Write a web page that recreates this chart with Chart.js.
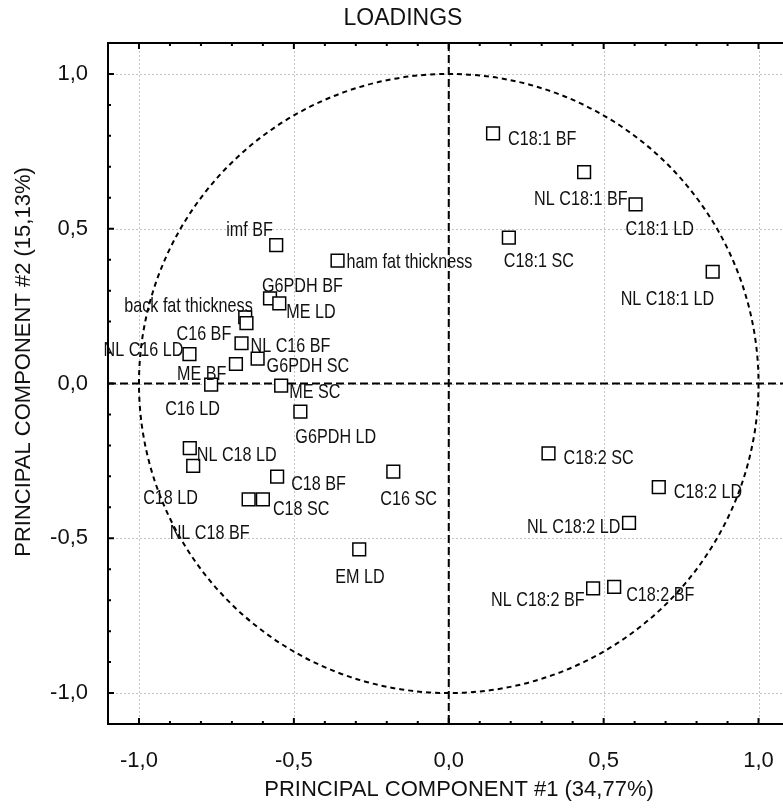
<!DOCTYPE html>
<html>
<head>
<meta charset="utf-8">
<script src="https://cdn.jsdelivr.net/npm/chart.js@4.4.0/dist/chart.umd.min.js"></script>
<style>
html, body { margin: 0; padding: 0; background: #fff; overflow: hidden; }
canvas { display: block; }
</style>
</head>
<body>
<canvas id="myChart" width="800" height="810"></canvas>
<script>
// loadings
var variables = ['C18:1 BF', 'NL C18:1 BF', 'C18:1 LD', 'C18:1 SC', 'NL C18:1 LD',
  'imf BF', 'ham fat thickness', 'G6PDH BF', 'ME LD', 'back fat thickness',
  'C16 BF', 'NL C16 BF', 'NL C16 LD', 'G6PDH SC', 'ME BF',
  'C16 LD', 'ME SC', 'G6PDH LD', 'NL C18 LD', 'C18 LD',
  'C18 BF', 'NL C18 BF', 'C18 SC', 'C16 SC', 'EM LD',
  'C18:2 SC', 'C18:2 LD', 'NL C18:2 LD', 'NL C18:2 BF', 'C18:2 BF'];
var pc1 = [0.143, 0.437, 0.603, 0.194, 0.852,
  -0.557, -0.359, -0.577, -0.547, -0.657,
  -0.653, -0.669, -0.837, -0.617, -0.687,
  -0.767, -0.541, -0.479, -0.836, -0.825,
  -0.554, -0.646, -0.600, -0.179, -0.289,
  0.322, 0.678, 0.582, 0.466, 0.534];
var pc2 = [0.808, 0.683, 0.579, 0.471, 0.361,
  0.447, 0.397, 0.275, 0.259, 0.214,
  0.195, 0.130, 0.095, 0.080, 0.063,
  -0.004, -0.007, -0.091, -0.209, -0.266,
  -0.301, -0.374, -0.374, -0.285, -0.536,
  -0.226, -0.335, -0.450, -0.662, -0.657];

// where each label sits relative to its square (px, left / middle of text)
var labelOffsets = [[15, 4], [-50, 25], [-10, 23], [-5, 22], [-92, 26],
  [-50, -17], [9, 0], [-8, -14], [7, 7], [-121, -13],
  [-70, 9], [9, 1], [-86, -6], [9, 6], [-59, 9],
  [-46, 23], [8, 5], [-5, 24], [7, 5], [-50, 31],
  [14, 6], [-79, 32], [10, 8], [-13, 26], [-24, 26],
  [15, 3], [15, 3], [-102, 3], [-102, 10], [12, 7]];

var tickValues = [-1, -0.5, 0, 0.5, 1];
var tickLabels = ['-1,0', '-0,5', '0,0', '0,5', '1,0'];
var chartTitle = 'LOADINGS';
var xTitle = 'PRINCIPAL COMPONENT #1 (34,77%)';
var yTitle = 'PRINCIPAL COMPONENT #2 (15,13%)';

var FONT = '"Liberation Sans", Arial, sans-serif';

var points = variables.map(function(n, i) { return {x: pc1[i], y: pc2[i]}; });

function setTicks(scale) {
  scale.ticks = tickValues.map(function(v) { return {value: v}; });
}
function tickLabel(v) {
  var i = tickValues.indexOf(v);
  return i < 0 ? '' : tickLabels[i];
}

var loadingsPlugin = {
  id: 'loadings',
  beforeDatasetsDraw: function(chart) {
    var ctx = chart.ctx, a = chart.chartArea, xs = chart.scales.x, ys = chart.scales.y;
    ctx.save();
    // dotted grid
    ctx.strokeStyle = '#c4c4c4';
    ctx.lineWidth = 1;
    ctx.setLineDash([2, 2]);
    tickValues.forEach(function(v) {
      var px = Math.round(xs.getPixelForValue(v)) + 0.5;
      ctx.beginPath(); ctx.moveTo(px, a.top); ctx.lineTo(px, a.bottom); ctx.stroke();
      var py = Math.round(ys.getPixelForValue(v)) + 0.5;
      ctx.beginPath(); ctx.moveTo(a.left, py); ctx.lineTo(a.right, py); ctx.stroke();
    });
    // unit circle
    var cx = xs.getPixelForValue(0), cy = ys.getPixelForValue(0);
    var rx = xs.getPixelForValue(1) - cx, ry = cy - ys.getPixelForValue(1);
    ctx.strokeStyle = '#000';
    ctx.lineWidth = 2;
    ctx.setLineDash([5, 4]);
    ctx.beginPath(); ctx.ellipse(cx, cy, rx, ry, 0, 0, 2 * Math.PI); ctx.stroke();
    // zero lines
    ctx.setLineDash([8, 4]);
    ctx.beginPath(); ctx.moveTo(cx, a.top); ctx.lineTo(cx, a.bottom); ctx.stroke();
    ctx.beginPath(); ctx.moveTo(a.left, cy); ctx.lineTo(a.right, cy); ctx.stroke();
    ctx.restore();
  },
  afterDatasetsDraw: function(chart) {
    var ctx = chart.ctx, a = chart.chartArea, xs = chart.scales.x, ys = chart.scales.y;
    var meta = chart.getDatasetMeta(0);
    ctx.save();
    ctx.fillStyle = '#111';
    ctx.font = '21px ' + FONT;
    ctx.textAlign = 'left';
    ctx.textBaseline = 'alphabetic';
    meta.data.forEach(function(pt, i) {
      var off = labelOffsets[i];
      ctx.save();
      ctx.translate(pt.x + off[0], pt.y + off[1] + 7.5);
      ctx.scale(0.77, 1);
      ctx.fillText(variables[i], 0, 0);
      ctx.restore();
    });
    // frame
    ctx.strokeStyle = '#000';
    ctx.lineWidth = 2;
    ctx.strokeRect(a.left, a.top, a.right - a.left, a.bottom - a.top);
    // inward ticks every 0.1
    for (var k = -11; k <= 11; k++) {
      var len = (k % 5 === 0) ? 6 : 3;
      var px = xs.getPixelForValue(k / 10), py = ys.getPixelForValue(k / 10);
      ctx.beginPath();
      ctx.moveTo(px, a.bottom); ctx.lineTo(px, a.bottom - len);
      ctx.moveTo(px, a.top); ctx.lineTo(px, a.top + len);
      ctx.moveTo(a.left, py); ctx.lineTo(a.left + len, py);
      ctx.moveTo(a.right, py); ctx.lineTo(a.right - len, py);
      ctx.stroke();
    }
    ctx.restore();
  },
  afterDraw: function(chart) {
    var ctx = chart.ctx;
    ctx.save();
    ctx.fillStyle = '#111';
    ctx.textAlign = 'center';
    ctx.textBaseline = 'alphabetic';
    ctx.font = '23px ' + FONT;
    ctx.fillText(chartTitle, 403, 25);
    ctx.font = '22px ' + FONT;
    ctx.fillText(xTitle, 459, 796);
    ctx.translate(30, 362);
    ctx.rotate(-Math.PI / 2);
    ctx.fillText(yTitle, 0, 0);
    ctx.restore();
  }
};

var chart = new Chart('myChart', {
  type: 'scatter',
  data: {
    datasets: [{
      label: 'Loadings',
      data: points,
      pointStyle: 'rect',
      pointRadius: 9,
      pointHoverRadius: 9,
      borderColor: '#000',
      backgroundColor: '#fff',
      borderWidth: 1.5
    }]
  },
  options: {
    responsive: false,
    devicePixelRatio: 1,
    animation: false,
    layout: { padding: { top: 43, right: 8, left: 0, bottom: 0 } },
    plugins: { legend: { display: false }, tooltip: { enabled: false } },
    scales: {
      x: {
        type: 'linear', min: -1.1, max: 1.1,
        grid: { display: false }, border: { display: false },
        afterBuildTicks: setTicks,
        afterFit: function(s) { s.height = 86; },
        ticks: { callback: tickLabel, autoSkip: false, maxRotation: 0, padding: 16, color: '#111',
          font: { family: FONT, size: 22 } }
      },
      y: {
        type: 'linear', min: -1.1, max: 1.1,
        grid: { display: false }, border: { display: false },
        afterBuildTicks: setTicks,
        afterFit: function(s) { s.width = 108; },
        ticks: { callback: tickLabel, autoSkip: false, padding: 12, color: '#111',
          font: { family: FONT, size: 22 } }
      }
    }
  },
  plugins: [loadingsPlugin]
});
</script>
</body>
</html>
